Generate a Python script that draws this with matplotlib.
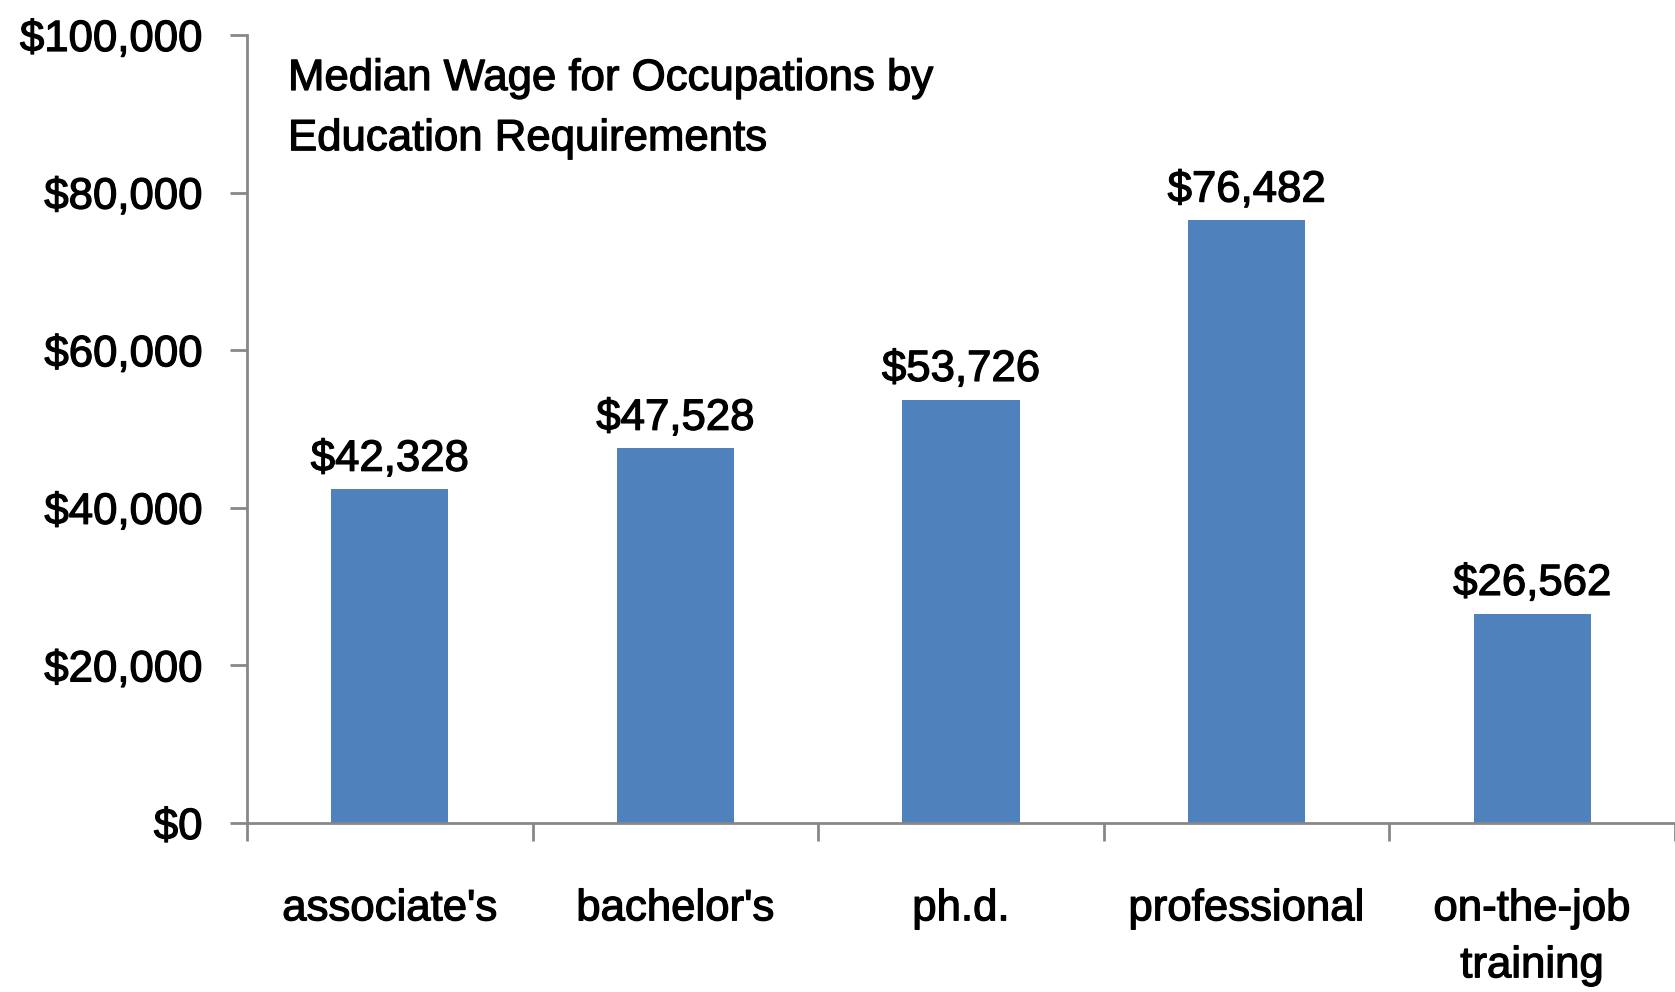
import matplotlib
matplotlib.use("Agg")
import matplotlib.pyplot as plt
import matplotlib.patheffects as pe
from matplotlib.ticker import FuncFormatter

plt.rcParams['font.family'] = ['Liberation Sans', 'DejaVu Sans']

# data
categories = ["associate's", "bachelor's", "ph.d.", "professional", "on-the-job\ntraining"]
wages = [42328, 47528, 53726, 76482, 26562]
y_ticks = [0, 20000, 40000, 60000, 80000, 100000]
title = "Median Wage for Occupations by\nEducation Requirements"

bar_color = "#4F81BD"
axis_color = "#878787"
fs = 31.5
heavy = [pe.withStroke(linewidth=0.9, foreground="black")]

fig = plt.figure(figsize=(16.75, 9.92), dpi=100)
ax = fig.add_axes([247 / 1675, 1 - 823 / 992, 1 - 247 / 1675, (823 - 35) / 992])

x = list(range(len(categories)))
bars = ax.bar(x, wages, width=0.41, color=bar_color, zorder=2)

# value labels above each bar
for xi, w in zip(x, wages):
    ax.annotate("${:,}".format(w), (xi, w), xytext=(0, 7), textcoords="offset points",
                ha="center", va="bottom", fontsize=fs, path_effects=heavy)

ax.set_xlim(-0.5, len(categories) - 0.5)
ax.set_ylim(0, 100000)
ax.set_yticks(y_ticks)
ax.yaxis.set_major_formatter(FuncFormatter(lambda v, p: "${:,.0f}".format(v)))

# x ticks sit between categories, labels centred under bars
ax.set_xticks([i - 0.5 for i in range(len(categories) + 1)])
ax.set_xticklabels([])
ax.set_xticks(x, minor=True)
ax.set_xticklabels(categories, minor=True, fontsize=fs, linespacing=1.5)
ax.tick_params(axis="x", which="minor", length=0, pad=47)
ax.tick_params(axis="x", which="major", length=13, width=2, color=axis_color, direction="out")
ax.tick_params(axis="y", length=12, width=2, color=axis_color, direction="out", labelsize=fs, pad=20)
for lbl in ax.get_xticklabels(minor=True) + ax.get_yticklabels():
    lbl.set_path_effects(heavy)

for s in ["top", "right"]:
    ax.spines[s].set_visible(False)
for s in ["left", "bottom"]:
    ax.spines[s].set_color(axis_color)
    ax.spines[s].set_linewidth(2)

ax.text(288 / 1675, 1 - 58 / 992, title, transform=fig.transFigure, ha="left", va="top",
        fontsize=fs, linespacing=1.6, path_effects=heavy)

fig.savefig("out.png", dpi=100)
